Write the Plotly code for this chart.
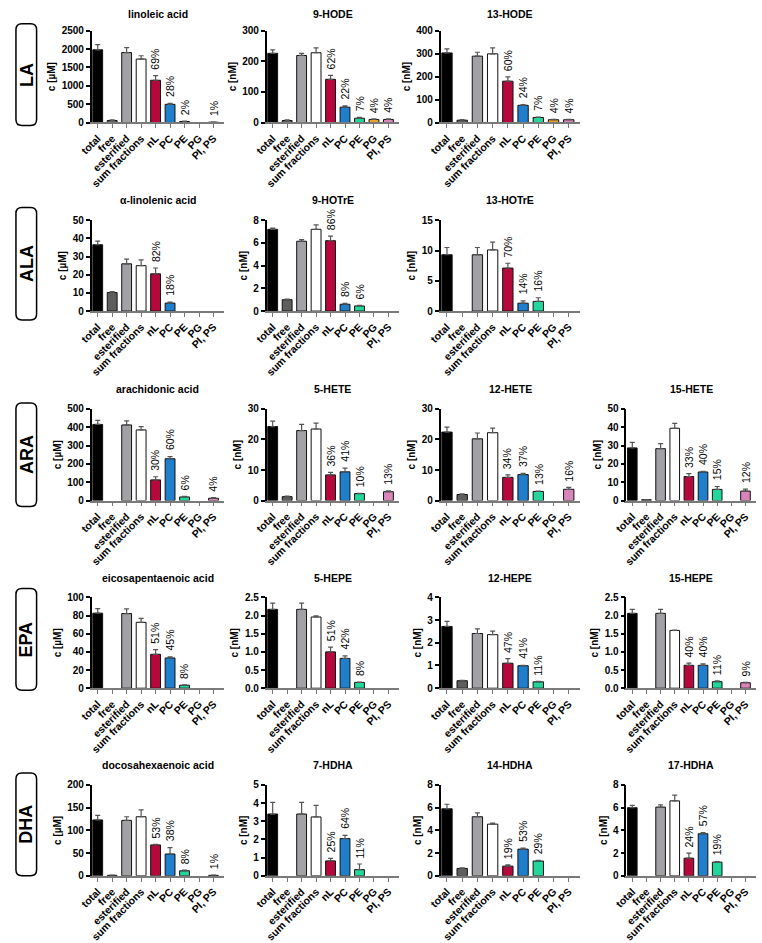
import plotly.graph_objects as go

W, H = 762, 943

categories = ["total", "free", "esterified", "sum fractions", "nL", "PC", "PE", "PG", "PI, PS"]
bar_colors = ["#000000", "#5e5e5e", "#a2a2a6", "#ffffff", "#b5083d", "#1f7fcc", "#22d69c", "#e9a22b", "#d885bb"]
row_names = ["LA", "ALA", "ARA", "EPA", "DHA"]

# ---- data (mean, SD, share of fractions) ----
la_val = [1980, 55, 1905, 1727, 1150, 495, 27, None, 9]
la_err = [142, 17, 135, 90, 127, 27, 9, None, 2]
la_pct = [None, None, None, None, "69%", "28%", "2%", None, "1%"]

hode9_val = [226, 6.5, 219, 228, 141, 50, 14, 10, 10]
hode9_err = [11, 2, 7, 16, 13, 4, 3, 2, 2]
hode9_pct = [None, None, None, None, "62%", "22%", "7%", "4%", "4%"]

hode13_val = [303, 10, 289, 299, 180, 75, 22, 12, 12]
hode13_err = [18, 3, 17, 26, 19, 3, 2, 2, 2]
hode13_pct = [None, None, None, None, "60%", "24%", "7%", "4%", "4%"]

ala_val = [36.5, 10.2, 26, 25, 20.5, 4.4, None, None, None]
ala_err = [2, 0.5, 2.6, 3.2, 3.2, 0.5, None, None, None]
ala_pct = [None, None, None, None, "82%", "18%", None, None, None]

hotre9_val = [7.2, 1.0, 6.15, 7.2, 6.2, 0.6, 0.45, None, None]
hotre9_err = [0.1, 0.05, 0.15, 0.4, 0.4, 0.08, 0.05, None, None]
hotre9_pct = [None, None, None, None, "86%", "8%", "6%", None, None]

hotre13_val = [9.3, None, 9.3, 10.1, 7.1, 1.3, 1.6, None, None]
hotre13_err = [1.2, None, 1.2, 1.3, 0.8, 0.4, 0.6, None, None]
hotre13_pct = [None, None, None, None, "70%", "14%", "16%", None, None]

ara_val = [415, None, 412, 385, 113, 228, 20, None, 13]
ara_err = [22, None, 22, 18, 17, 12, 3, None, 3]
ara_pct = [None, None, None, None, "30%", "60%", "6%", None, "4%"]

hete5_val = [24.2, 1.3, 22.9, 23.4, 8.4, 9.4, 2.3, None, 2.9]
hete5_err = [1.8, 0.2, 2.0, 1.9, 0.8, 1.2, 0.1, None, 0.3]
hete5_pct = [None, None, None, None, "36%", "41%", "10%", None, "13%"]

hete12_val = [22.4, 2.0, 20.2, 22.2, 7.6, 8.5, 3.0, None, 3.7]
hete12_err = [1.6, 0.2, 1.9, 1.5, 0.8, 0.4, 0.1, None, 0.6]
hete12_pct = [None, None, None, None, "34%", "37%", "13%", None, "16%"]

hete15_val = [28.7, 0.5, 28.3, 39.4, 13.1, 15.6, 6.1, None, 5.2]
hete15_err = [3.0, 0.1, 2.7, 2.7, 1.6, 0.3, 1.6, None, 1.1]
hete15_pct = [None, None, None, None, "33%", "40%", "15%", None, "12%"]

epa_val = [82.6, None, 82.2, 72.5, 37.3, 33.3, 3.3, None, None]
epa_err = [5.1, None, 5.1, 4.3, 5.1, 1.1, 0.3, None, None]
epa_pct = [None, None, None, None, "51%", "45%", "8%", None, None]

hepe5_val = [2.17, None, 2.17, 1.96, 1.0, 0.82, 0.16, None, None]
hepe5_err = [0.17, None, 0.17, 0.03, 0.13, 0.07, 0.01, None, None]
hepe5_pct = [None, None, None, None, "51%", "42%", "8%", None, None]

hepe12_val = [2.72, 0.33, 2.41, 2.36, 1.1, 0.99, 0.28, None, None]
hepe12_err = [0.22, 0.02, 0.2, 0.15, 0.2, 0.02, 0.02, None, None]
hepe12_pct = [None, None, None, None, "47%", "41%", "11%", None, None]

hepe15_val = [2.06, None, 2.06, 1.59, 0.63, 0.63, 0.18, None, 0.15]
hepe15_err = [0.11, None, 0.11, 0.01, 0.06, 0.04, 0.02, None, 0.01]
hepe15_pct = [None, None, None, None, "40%", "40%", "11%", None, "9%"]

dha_val = [123, 1, 122, 130, 68, 48, 11, None, 1]
dha_err = [10, 0.3, 8, 15, 1, 14, 1.3, None, 0.3]
dha_pct = [None, None, None, None, "53%", "38%", "8%", None, "1%"]

hdha7_val = [3.4, None, 3.4, 3.24, 0.82, 2.05, 0.34, None, None]
hdha7_err = [0.64, None, 0.64, 0.64, 0.14, 0.18, 0.31, None, None]
hdha7_pct = [None, None, None, None, "25%", "64%", "11%", None, None]

hdha14_val = [5.9, 0.65, 5.2, 4.55, 0.85, 2.35, 1.3, None, None]
hdha14_err = [0.4, 0.05, 0.35, 0.1, 0.12, 0.08, 0.05, None, None]
hdha14_pct = [None, None, None, None, "19%", "53%", "29%", None, None]

hdha17_val = [6.0, None, 6.05, 6.6, 1.55, 3.7, 1.2, None, None]
hdha17_err = [0.2, None, 0.2, 0.5, 0.45, 0.1, 0.05, None, None]
hdha17_pct = [None, None, None, None, "24%", "57%", "19%", None, None]

# panel: (title, unit, row, col, ymax, dtick, values, errors, percents)
panels = [
    ("linoleic acid", "µM", 0, 0, 2500, 500, la_val, la_err, la_pct),
    ("9-HODE", "nM", 0, 1, 300, 100, hode9_val, hode9_err, hode9_pct),
    ("13-HODE", "nM", 0, 2, 400, 100, hode13_val, hode13_err, hode13_pct),
    ("α-linolenic acid", "µM", 1, 0, 50, 10, ala_val, ala_err, ala_pct),
    ("9-HOTrE", "nM", 1, 1, 8, 2, hotre9_val, hotre9_err, hotre9_pct),
    ("13-HOTrE", "nM", 1, 2, 15, 5, hotre13_val, hotre13_err, hotre13_pct),
    ("arachidonic acid", "µM", 2, 0, 500, 100, ara_val, ara_err, ara_pct),
    ("5-HETE", "nM", 2, 1, 30, 10, hete5_val, hete5_err, hete5_pct),
    ("12-HETE", "nM", 2, 2, 30, 10, hete12_val, hete12_err, hete12_pct),
    ("15-HETE", "nM", 2, 3, 50, 10, hete15_val, hete15_err, hete15_pct),
    ("eicosapentaenoic acid", "µM", 3, 0, 100, 20, epa_val, epa_err, epa_pct),
    ("5-HEPE", "nM", 3, 1, 2.5, 0.5, hepe5_val, hepe5_err, hepe5_pct),
    ("12-HEPE", "nM", 3, 2, 4, 1, hepe12_val, hepe12_err, hepe12_pct),
    ("15-HEPE", "nM", 3, 3, 2.5, 0.5, hepe15_val, hepe15_err, hepe15_pct),
    ("docosahexaenoic acid", "µM", 4, 0, 200, 50, dha_val, dha_err, dha_pct),
    ("7-HDHA", "nM", 4, 1, 5, 1, hdha7_val, hdha7_err, hdha7_pct),
    ("14-HDHA", "nM", 4, 2, 8, 2, hdha14_val, hdha14_err, hdha14_pct),
    ("17-HDHA", "nM", 4, 3, 8, 2, hdha17_val, hdha17_err, hdha17_pct),
]

# ---- layout geometry (pixels) ----
col_px = [(80, 215), (258, 393), (435, 577), (624, 756)]
row_px = [(25, 118), (217, 309), (408, 501), (599, 691), (789, 881)]
title_px = [8, 197, 388, 579, 769]
box_px = [(18, 121), (204, 318), (402, 507), (590, 693), (777, 881)]

FONT = "Liberation Sans, Arial, sans-serif"

def px_x(p):
    return p / W

def px_y(p):
    return 1 - p / H

fig = go.Figure()
layout = dict(
    width=W, height=H, margin=dict(l=0, r=0, t=0, b=0),
    paper_bgcolor="white", plot_bgcolor="white", showlegend=False,
    font=dict(family=FONT, color="#000"),
)
annotations = []
shapes = []

for k, (title, unit, r, c, ymax, dtick, vals, errs, pcts) in enumerate(panels):
    n = k + 1
    xa = "x" if n == 1 else f"x{n}"
    ya = "y" if n == 1 else f"y{n}"
    xkey = "xaxis" if n == 1 else f"xaxis{n}"
    ykey = "yaxis" if n == 1 else f"yaxis{n}"
    x0, x1 = col_px[c]
    yt, yb = row_px[r]
    errs_clean = [e if (e is not None and v is not None) else 0 for v, e in zip(vals, errs)]
    fig.add_trace(go.Bar(
        x=list(range(len(categories))), y=vals,
        width=0.68,
        marker=dict(color=bar_colors, line=dict(color="#111", width=1)),
        error_y=dict(type="data", symmetric=False, array=errs_clean,
                     arrayminus=[0] * len(vals), color="#555", thickness=1.2, width=2.5),
        xaxis=xa, yaxis=ya, hoverinfo="skip",
    ))
    layout[xkey] = dict(
        domain=[px_x(x0), px_x(x1)], anchor=ya,
        range=[-0.42, 8.75], tickmode="array", tickvals=list(range(len(categories))),
        ticktext=categories, tickangle=-45, ticks="outside", ticklen=4, tickwidth=1.3,
        tickcolor="#777", showline=True, linecolor="#7a7a7a", linewidth=1.5,
        showgrid=False, zeroline=False, fixedrange=True,
        tickfont=dict(size=10.5, family=FONT, weight="bold", color="#000"),
    )
    layout[ykey] = dict(
        domain=[px_y(yb), px_y(yt)], anchor=xa,
        range=[0, ymax], tick0=0, dtick=dtick, ticks="outside", ticklen=4, tickwidth=1.5,
        tickcolor="#000", showline=True, linecolor="#000", linewidth=1.5,
        showgrid=False, zeroline=False, fixedrange=True,
        tickformat=".1f" if dtick < 1 else "d",
        tickfont=dict(size=10, family=FONT, weight="bold", color="#000"),
        title=dict(text=f"c [{unit}]", standoff=4,
                   font=dict(size=10, family=FONT, weight="bold", color="#000")),
    )
    annotations.append(dict(
        x=px_x((x0 + x1) / 2), y=px_y(title_px[r]), xref="paper", yref="paper",
        text=title, showarrow=False, xanchor="center", yanchor="middle",
        font=dict(size=10.5, family=FONT, weight="bold", color="#000"),
    ))
    for i, (v, e, p) in enumerate(zip(vals, errs_clean, pcts)):
        if p is None or v is None:
            continue
        annotations.append(dict(
            x=i, y=v + e, xref=xa, yref=ya, text=p, showarrow=False,
            textangle=-90, xanchor="center", yanchor="bottom", yshift=4,
            font=dict(size=10.5, family=FONT, color="#000"),
        ))

# row label boxes
bx0, bx1, rad = 3, 24, 6
for r, name in enumerate(row_names):
    t, b = box_px[r]
    def P(x, y):
        return f"{px_x(x):.5f},{px_y(y):.5f}"
    path = (f"M {P(bx0 + rad, t)} L {P(bx1 - rad, t)} Q {P(bx1, t)} {P(bx1, t + rad)} "
            f"L {P(bx1, b - rad)} Q {P(bx1, b)} {P(bx1 - rad, b)} "
            f"L {P(bx0 + rad, b)} Q {P(bx0, b)} {P(bx0, b - rad)} "
            f"L {P(bx0, t + rad)} Q {P(bx0, t)} {P(bx0 + rad, t)} Z")
    shapes.append(dict(type="path", path=path, xref="paper", yref="paper",
                       line=dict(color="#000", width=1.5), fillcolor="rgba(0,0,0,0)"))
    annotations.append(dict(
        x=px_x((bx0 + bx1) / 2), y=px_y((t + b) / 2), xref="paper", yref="paper",
        text=name, showarrow=False, textangle=-90, xanchor="center", yanchor="middle",
        font=dict(size=18, family=FONT, weight="bold", color="#000"),
    ))

layout["annotations"] = annotations
layout["shapes"] = shapes
fig.update_layout(**layout)
fig.write_html("out.html")
